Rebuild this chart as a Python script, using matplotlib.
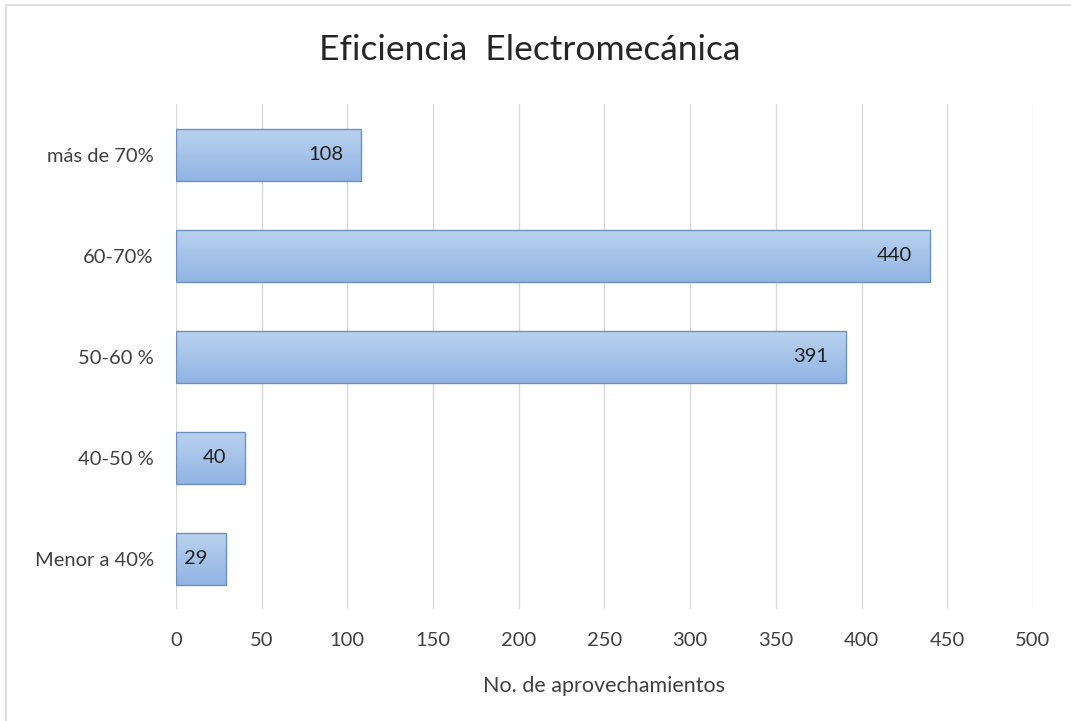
import matplotlib.pyplot as plt
import matplotlib.patches as mpatches
import numpy as np

# Datos de la grafica
categorias = ['Menor a 40%', '40-50 %', '50-60 %', '60-70%', 'más de 70%']
valores = [29, 40, 391, 440, 108]
ticks_x = [0, 50, 100, 150, 200, 250, 300, 350, 400, 450, 500]

plt.rcParams['font.family'] = ['Lato', 'DejaVu Sans']

fig = plt.figure(figsize=(10.71, 7.21), dpi=100)
ax = fig.add_axes([0.1643, 0.1547, 0.8002, 0.7004])

# Borde exterior del grafico
fig.patches.append(mpatches.Rectangle((6 / 1071, -0.01), 1.0, 1 - 5 / 721 + 0.01,
                                      transform=fig.transFigure, fill=False,
                                      edgecolor='#d9d9d9', linewidth=1.2))

y = np.arange(len(categorias))
barras = ax.barh(y, valores, height=0.52, color='none', edgecolor='#7090bd', linewidth=1, zorder=3)

# Relleno degradado de cada barra (mas claro arriba, mas oscuro abajo)
grad = np.linspace(0, 1, 100).reshape(-1, 1)
cmap = plt.matplotlib.colors.LinearSegmentedColormap.from_list('g', ['#91b4e3', '#bad2ef'])
for b in barras:
    x0, y0 = b.get_x(), b.get_y()
    w, h = b.get_width(), b.get_height()
    im = ax.imshow(grad, aspect='auto', cmap=cmap, origin='lower',
                   extent=[x0, x0 + w, y0, y0 + h], zorder=2)
    im.set_clip_path(b)

# Etiquetas de valores
for yi, v in zip(y, valores):
    ax.annotate(str(v), xy=(v, yi), xytext=(-13, 0), textcoords='offset points',
                ha='right', va='center', fontsize=14.5, color='#1f1f1f', zorder=4)

ax.set_xlim(0, 500)
ax.set_ylim(-0.5, len(categorias) - 0.5)
ax.set_xticks(ticks_x)
ax.set_yticks(y)
ax.set_yticklabels(categorias)
ax.tick_params(axis='both', length=0, labelsize=14.5, labelcolor='#404040')
ax.tick_params(axis='y', pad=16)
ax.tick_params(axis='x', pad=16)
ax.grid(axis='x', color='#d9d9d9', linewidth=1, zorder=0)
ax.set_axisbelow(True)
for s in ax.spines.values():
    s.set_visible(False)

ax.set_xlabel('No. de aprovechamientos', fontsize=15.5, color='#404040', labelpad=20)
fig.text(0.4945, 0.93, 'Eficiencia  Electromecánica', ha='center', va='center',
         fontsize=25.5, color='#262626')

fig.savefig('out.png', dpi=100, facecolor='white')
